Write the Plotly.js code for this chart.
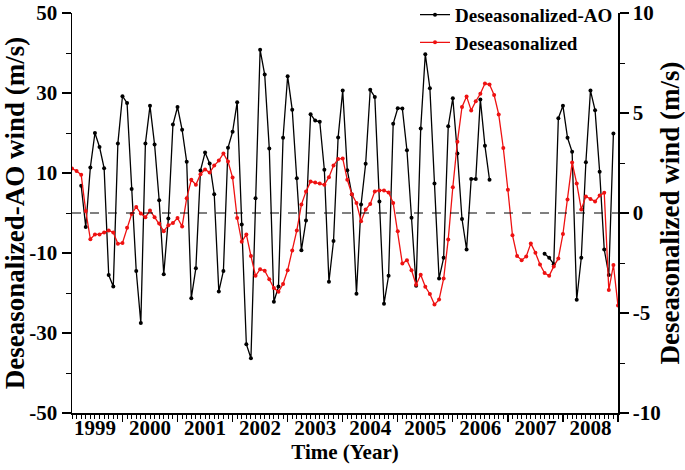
<!DOCTYPE html>
<html>
<head>
<meta charset="utf-8">
<script src="https://cdn.plot.ly/plotly-3.0.1.min.js"></script>
<style>
  html, body { margin: 0; padding: 0; background: #fff; }
  #box { width: 685px; height: 470px; }
</style>
</head>
<body>
<div id="box"></div>
<script>
'use strict'

// monthly values, Feb 1999 .. Jan 2009 (month index 1..120)
var aoWind = [
    null, null, 6.8, -3.5, 11.4, 20.0, 16.5, 11.2, -15.5, -18.4, 17.4, 29.2,
    27.5, 6.0, -14.5, -27.5, 17.4, 26.8, 17.1, 3.2, -15.3, -1.4, 22.1, 26.5,
    20.8, 12.8, -21.3, -13.8, 10.6, 15.1, 12.4, 4.7, -19.6, -14.5, 16.3, 20.3,
    27.7, -2.9, -32.8, -36.3, 3.7, 40.8, 34.6, 16.1, -22.2, -18.4, 18.8, 34.2,
    25.8, 8.7, -9.3, -1.9, 24.7, 23.1, 22.8, 10.8, -17.2, -7.0, 18.9, 30.6,
    10.7, 4.6, -20.2, 2.1, 12.3, 30.8, 29.0, 2.9, -22.7, -15.7, 22.3, 26.2,
    26.1, 15.7, -1.2, -18.2, 21.1, 39.7, 31.2, 7.4, -16.4, -11.2, 21.7, 28.7,
    14.9, -1.5, -9.1, 8.5, 8.5, 28.4, 16.8, 8.3, null, null, null, null,
    null, null, null, null, null, null, null, -10.2, -11.2, -12.8, 23.7, 26.8,
    18.8, 15.3, -21.7, -11.2, 12.7, 30.6, 25.7, 10.3, -9.1, -15.5, 19.9, null
];

var deseasWind = [
    2.23, 2.10, 1.91, 0.10, -1.31, -1.07, -1.07, -0.97, -0.87, -0.97, -1.54, -1.50,
    -0.74, -0.05, 0.30, -0.03, -0.21, 0.12, -0.21, -0.53, -0.91, -0.61, -0.50, -0.25,
    -0.67, 0.74, 1.66, 1.41, 1.94, 2.18, 2.02, 2.37, 2.62, 2.98, 2.57, 1.77,
    -0.25, -1.44, -1.07, -2.15, -3.14, -2.81, -2.89, -3.31, -3.75, -3.94, -3.55, -2.86,
    -1.87, -0.87, 0.42, 1.08, 1.57, 1.52, 1.47, 1.41, 1.79, 2.37, 2.70, 2.73,
    1.66, 0.94, 0.50, -0.41, 0.17, 0.45, 1.08, 1.13, 1.13, 1.03, 0.50, -0.91,
    -2.53, -2.36, -2.86, -3.59, -3.09, -3.69, -4.05, -4.58, -4.33, -3.28, -1.32, 1.29,
    3.56, 5.30, 5.83, 5.13, 5.59, 5.96, 6.47, 6.42, 5.90, 4.93, 3.25, 1.16,
    -1.11, -2.15, -2.36, -2.17, -1.52, -1.99, -2.58, -3.00, -3.14, -2.67, -2.27, -1.05,
    0.67, 2.52, 1.48, 0.18, 0.83, 0.70, 0.58, 0.87, 1.01, -3.85, -2.60, -4.63
];

var yearLabels = ['1999', '2000', '2001', '2002', '2003', '2004', '2005', '2006', '2007', '2008'];
var yearCentres = [6, 18, 30, 42, 54, 66, 78, 90, 102, 114];
var yearStarts = [12, 24, 36, 48, 60, 72, 84, 96, 108, 120];

var leftTicks = [-50, -30, -10, 10, 30, 50];
var leftTickText = ['-50', '-30', '-10', '10', '30', '50'];
var rightTicks = [-10, -5, 0, 5, 10];
var rightTickText = ['-10', '-5', '0', '5', '10'];

var months = [];
for (var i = 1; i <= aoWind.length; i++) {
    months.push(i);
}

var serif = 'Liberation Serif, Times New Roman, serif';

var aoTrace = {
    type: 'scatter',
    mode: 'lines+markers',
    name: 'Deseasonalized-AO',
    x: months,
    y: aoWind,
    connectgaps: false,
    line: {color: '#000000', width: 1.3},
    marker: {color: '#000000', size: 4}
};

var deseasTrace = {
    type: 'scatter',
    mode: 'lines+markers',
    name: 'Deseasonalized',
    x: months,
    y: deseasWind,
    xaxis: 'x2',
    yaxis: 'y2',
    line: {color: '#ee1111', width: 1.3},
    marker: {color: '#ee1111', size: 4}
};

var layout = {
    width: 685,
    height: 470,
    margin: {l: 72, r: 67, t: 13, b: 57, pad: 0, autoexpand: false},
    paper_bgcolor: '#ffffff',
    plot_bgcolor: '#ffffff',
    font: {family: serif, color: '#000000', size: 20},
    showlegend: true,
    legend: {
        x: 1, xanchor: 'right',
        y: 1.043, yanchor: 'top',
        bgcolor: 'rgba(0,0,0,0)',
        font: {family: serif, size: 19, weight: 'bold'},
        tracegroupgap: 0
    },
    xaxis: {
        range: [1, 120],
        tickmode: 'array',
        tickvals: yearStarts,
        showticklabels: false,
        ticks: 'outside',
        ticklen: 7,
        tickwidth: 1.3,
        tickcolor: '#000000',
        minor: {dtick: 1, tick0: 0, ticks: 'outside', ticklen: 4, tickwidth: 1, tickcolor: '#000000'},
        showline: true,
        linecolor: '#000000',
        linewidth: 1.5,
        showgrid: false,
        zeroline: false
    },
    xaxis2: {
        range: [1, 120],
        overlaying: 'x',
        anchor: 'y',
        side: 'bottom',
        tickmode: 'array',
        tickvals: yearCentres,
        ticktext: yearLabels,
        ticks: '',
        ticklabeloverflow: 'allow',
        tickfont: {family: serif, size: 21, weight: 'bold'},
        showline: false,
        showgrid: false,
        zeroline: false,
        title: {text: 'Time (Year)', font: {family: serif, size: 21, weight: 'bold'}, standoff: 5}
    },
    yaxis: {
        range: [-50, 50],
        tickmode: 'array',
        tickvals: leftTicks,
        ticktext: leftTickText,
        ticks: 'outside',
        ticklen: 9,
        tickwidth: 1.3,
        tickcolor: '#000000',
        ticklabeloverflow: 'allow',
        minor: {dtick: 10, tick0: -50, ticks: 'outside', ticklen: 5, tickwidth: 1, tickcolor: '#000000'},
        tickfont: {family: serif, size: 21, weight: 'bold'},
        showline: true,
        linecolor: '#000000',
        linewidth: 1.5,
        showgrid: false,
        zeroline: false,
        title: {text: 'Deseasonalized-AO wind (m/s)', font: {family: serif, size: 27, weight: 'bold'}, standoff: 2}
    },
    yaxis2: {
        range: [-10, 10],
        overlaying: 'y',
        anchor: 'x',
        side: 'right',
        tickmode: 'array',
        tickvals: rightTicks,
        ticktext: rightTickText,
        ticks: 'outside',
        ticklen: 9,
        tickwidth: 1.3,
        tickcolor: '#000000',
        ticklabeloverflow: 'allow',
        minor: {dtick: 2.5, tick0: -10, ticks: 'outside', ticklen: 5, tickwidth: 1, tickcolor: '#000000'},
        tickfont: {family: serif, size: 21, weight: 'bold'},
        showline: true,
        linecolor: '#000000',
        linewidth: 1.5,
        showgrid: false,
        zeroline: false,
        title: {text: 'Deseasonalized wind (m/s)', font: {family: serif, size: 27, weight: 'bold'}, standoff: 2}
    },
    shapes: [{
        type: 'line',
        xref: 'paper', x0: 0, x1: 1,
        yref: 'y', y0: 0, y1: 0,
        line: {color: '#000000', width: 1, dash: 'dash'}
    }]
};

Plotly.newPlot('box', [aoTrace, deseasTrace], layout, {displayModeBar: false, staticPlot: true});
</script>
</body>
</html>
